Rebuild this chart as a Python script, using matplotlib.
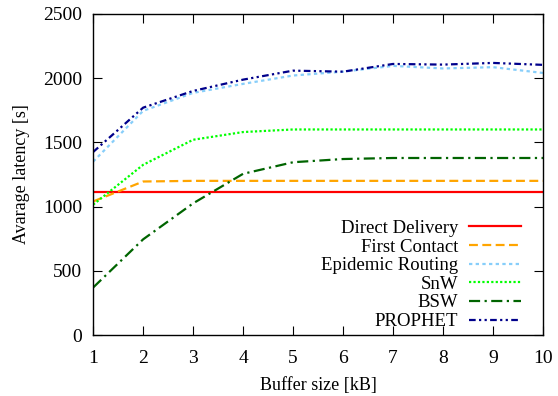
import matplotlib.pyplot as plt

plt.rcParams['font.family'] = ['Liberation Serif', 'DejaVu Serif']

# buffer sizes
bufferSize = [1, 2, 3, 4, 5, 6, 7, 8, 9, 10]

# average latency per protocol
directDelivery = [1110, 1110, 1110, 1110, 1110, 1110, 1110, 1110, 1110, 1110]
firstContact = [1040, 1195, 1200, 1200, 1200, 1200, 1200, 1200, 1200, 1200]
epidemic = [1350, 1745, 1885, 1955, 2020, 2050, 2095, 2075, 2085, 2040]
snw = [1015, 1325, 1520, 1580, 1600, 1600, 1600, 1600, 1600, 1600]
bsw = [370, 745, 1025, 1255, 1345, 1370, 1378, 1378, 1378, 1378]
prophet = [1425, 1770, 1900, 1988, 2058, 2050, 2110, 2105, 2118, 2103]

fig = plt.figure(figsize=(5.58, 3.96), dpi=100)
ax = fig.add_axes([0.167, 0.154, 0.806, 0.811])

lw = 1.6
ax.plot(bufferSize, directDelivery, color="#ff0000", lw=lw, label="Direct Delivery")
ax.plot(bufferSize, firstContact, color="#ffa500", lw=lw, dashes=(4, 2), label="First Contact")
ax.plot(bufferSize, epidemic, color="#87cefa", lw=lw, dashes=(1.5, 1.5), label="Epidemic Routing")
ax.plot(bufferSize, snw, color="#00ff00", lw=lw, dashes=(1, 1), label="SnW")
ax.plot(bufferSize, bsw, color="#006400", lw=lw, dashes=(5, 2, 1, 2), label="BSW")
ax.plot(bufferSize, prophet, color="#00008b", lw=lw, dashes=(3, 1.5, 1, 1.5, 1, 1.5), label="PROPHET")

#axes and ticks
ax.set_xlim(1, 10)
ax.set_ylim(0, 2500)
ax.set_xticks(range(1, 11))
ax.set_yticks(range(0, 2501, 500))
ax.tick_params(direction="in", top=True, right=True, labelsize=14, length=6.5, pad=8)
ax.tick_params(axis="x", pad=11)
for s in ax.spines.values():
    s.set_linewidth(1.0)

ax.set_xlabel("Buffer size [kB]", fontsize=13, labelpad=7)
ax.set_ylabel("Avarage latency [s]", fontsize=13, labelpad=9)

ax.legend(loc="lower right", bbox_to_anchor=(0.968, -0.008), frameon=False, markerfirst=False,
          fontsize=13.5, handlelength=2.8, labelspacing=0.08, handletextpad=0.55,
          borderaxespad=0.0)

fig.savefig("out.png", dpi=100)
